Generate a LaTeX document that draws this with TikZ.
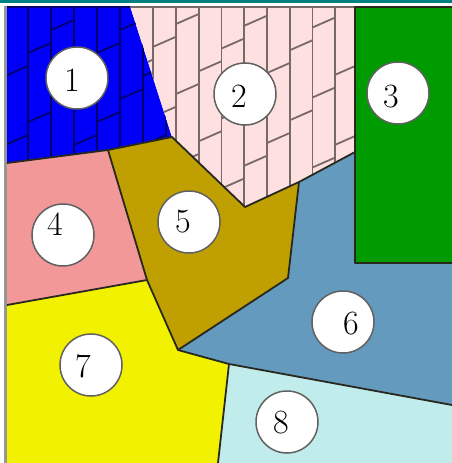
\documentclass[tikz,border=0pt]{standalone}
\definecolor{tealbar}{RGB}{0,128,128}
\definecolor{framegray}{RGB}{150,150,150}
\definecolor{zone1}{RGB}{0,0,250}
\definecolor{zone2}{RGB}{255,224,224}
\definecolor{zone3}{RGB}{0,155,0}
\definecolor{zone4}{RGB}{242,152,152}
\definecolor{zone5}{RGB}{192,160,0}
\definecolor{zone6}{RGB}{100,154,190}
\definecolor{zone7}{RGB}{242,242,0}
\definecolor{zone8}{RGB}{192,236,236}
\definecolor{hatch1}{RGB}{0,0,110}
\definecolor{hatch2}{RGB}{120,105,105}
\definecolor{border}{RGB}{40,40,30}
\begin{document}
\begin{tikzpicture}[x=1pt,y=-1pt,
  hatchA/.style={draw=hatch1,line width=1.8pt},
  hatchB/.style={draw=hatch2,line width=1.8pt},
  edge/.style={draw=border,line width=1.8pt,line join=round},
  spot/.style={circle,draw=black!62,fill=white,line width=1.5pt,
    minimum size=62pt,inner sep=0pt},
  num/.style={font=\fontsize{34}{34}\selectfont,inner sep=0pt}]
\useasboundingbox (0,0) rectangle (452,463);
\coordinate (A) at (7,6);     \coordinate (B) at (130,6);
\coordinate (C) at (355,6);   \coordinate (D) at (452,6);
\coordinate (E) at (172,137); \coordinate (F) at (7,163);
\coordinate (G) at (108,150); \coordinate (H) at (245,207);
\coordinate (I) at (299,182); \coordinate (J) at (355,152);
\coordinate (K) at (355,263); \coordinate (L) at (452,263);
\coordinate (M) at (288,278); \coordinate (N) at (178,350);
\coordinate (P) at (147,280); \coordinate (Q) at (7,305);
\coordinate (R) at (229,364); \coordinate (S) at (452,405);
\coordinate (T) at (218,463); \coordinate (U) at (452,463);
\coordinate (V) at (7,463);
\fill[tealbar] (0,0) rectangle (452,3);
\fill[framegray] (4,6) rectangle (7,463);
\fill[zone1] (A) -- (B) -- (E) -- (G) -- (F) -- cycle;
\fill[zone2] (B) -- (C) -- (J) -- (I) -- (H) -- (E) -- cycle;
\fill[zone3] (C) -- (D) -- (L) -- (K) -- cycle;
\fill[zone4] (F) -- (G) -- (P) -- (Q) -- cycle;
\fill[zone5] (G) -- (E) -- (H) -- (I) -- (M) -- (N) -- (P) -- cycle;
\fill[zone6] (I) -- (J) -- (K) -- (L) -- (S) -- (R) -- (N) -- (M) -- cycle;
\fill[zone7] (Q) -- (P) -- (N) -- (R) -- (T) -- (V) -- cycle;
\fill[zone8] (R) -- (S) -- (U) -- (T) -- cycle;
\begin{scope}
  \clip (A) -- (B) -- (E) -- (G) -- (F) -- cycle;
  \foreach \i in {1,...,7}
    \draw[hatchA] (5+23*\i,0) -- (5+23*\i,170);
  \foreach \i in {0,...,6}
    \foreach \k in {-1,...,3} {
      \pgfmathsetmacro\ya{76-23*\i+69*\k}
      \draw[hatchA] (5+23*\i,\ya) -- (28+23*\i,\ya-10);
    }
  \draw[hatchA] (0,7) -- (200,7);
\end{scope}
\begin{scope}
  \clip (B) -- (C) -- (J) -- (I) -- (H) -- (E) -- cycle;
  \foreach \i in {1,...,9}
    \draw[hatchB] (130.5+22.75*\i,0) -- (130.5+22.75*\i,220);
  \foreach \i in {0,...,9}
    \foreach \k in {-4,...,2} {
      \pgfmathsetmacro\ya{279.5-22.75*\i+70*\k}
      \draw[hatchB] (130.5+22.75*\i,\ya) -- (153.25+22.75*\i,\ya-10);
    }
  \draw[hatchB] (100,7) -- (360,7);
\end{scope}
\draw[edge] (F) -- (G) -- (E) -- (H) -- (I) -- (J);
\draw[edge] ([yshift=-1pt]D) -- ([yshift=-1pt]C) -- (K) -- (L);
\draw[edge] (I) -- (M) -- (N) -- (P) -- (G);
\draw[edge] (P) -- (Q);
\draw[edge] (N) -- (R) -- (S);
\draw[edge] (R) -- (T);
\node[spot] (c1) at (77,78) {};
\node[spot] (c2) at (245,94) {};
\node[spot] (c3) at (398,93) {};
\node[spot] (c4) at (63,235) {};
\node[spot] (c5) at (189,222) {};
\node[spot] (c6) at (343,322) {};
\node[spot] (c7) at (91,365) {};
\node[spot] (c8) at (287,422) {};
\node[num] (t1) at (72,80) {1};
\node[num] (t2) at (239,96) {2};
\node[num] (t3) at (391,97) {3};
\node[num] (t4) at (55,224) {4};
\node[num] (t5) at (183,222) {5};
\node[num] (t6) at (351,324) {6};
\node[num] (t7) at (83,366) {7};
\node[num] (t8) at (281,423) {8};
\end{tikzpicture}
\end{document}
